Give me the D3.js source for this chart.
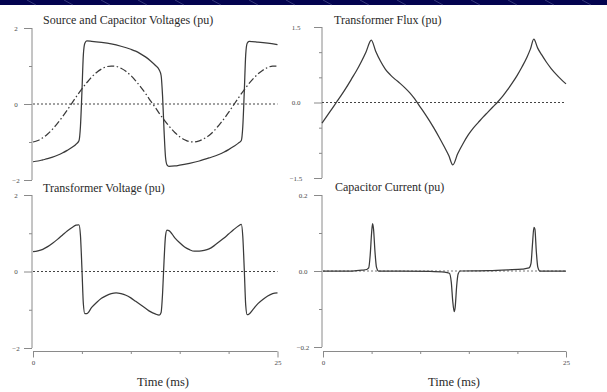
<!DOCTYPE html>
<html>
<head>
<meta charset="utf-8">
<script src="https://cdn.jsdelivr.net/npm/d3@7"></script>
<style>
  html, body { margin: 0; padding: 0; background: #fff; }
  svg { display: block; }
  .title { font-family: "Liberation Serif", "Times New Roman", serif; fill: #2a2a2a; }
  .tick text { font-family: "Liberation Serif", serif; fill: #4a4a4a; }
</style>
</head>
<body>
<svg id="chart" width="607" height="392"></svg>
<script>
// Time axis (ms)
const timeTicks = [0, 5, 10, 15, 20, 25];
const timeLabels = [0, 25];

// Source voltage (pu), dash-dot trace
const sourceT = [0,0.5,1,1.5,2,2.5,3,3.5,4,4.5,5,5.5,6,6.5,7,7.5,8,8.5,9,9.5,10,10.5,11,11.5,12,12.5,13,13.5,14,14.5,15,15.5,16,16.5,17,17.5,18,18.5,19,19.5,20,20.5,21,21.5,22,22.5,23,23.5,24,24.5,25];
const sourceV = [-1.00,-0.96,-0.89,-0.79,-0.66,-0.51,-0.34,-0.16,0.03,0.22,0.40,0.56,0.71,0.83,0.92,0.98,1.00,0.99,0.94,0.86,0.75,0.61,0.45,0.28,0.09,-0.09,-0.28,-0.45,-0.61,-0.75,-0.86,-0.94,-0.99,-1.00,-0.97,-0.91,-0.83,-0.71,-0.56,-0.40,-0.22,-0.03,0.16,0.34,0.51,0.66,0.79,0.89,0.96,1.00,1.00];

// Capacitor voltage (pu)
const capT = [0,0.5,1,1.5,2,2.5,3,3.5,4,4.4,4.7,4.85,5,5.15,5.3,5.5,6,7,8,9,10,10.5,11,11.5,12,12.5,12.9,13.1,13.25,13.4,13.55,13.7,13.9,14.5,15,16,17,18,19,19.5,20,20.5,21,21.3,21.45,21.6,21.75,21.9,22.1,23,24,25];
const capV = [-1.52,-1.50,-1.47,-1.44,-1.40,-1.35,-1.29,-1.22,-1.14,-1.06,-0.97,-0.60,0.30,1.30,1.60,1.66,1.65,1.62,1.58,1.52,1.44,1.39,1.32,1.24,1.14,1.02,0.90,0.75,0.20,-0.70,-1.40,-1.60,-1.64,-1.63,-1.61,-1.56,-1.50,-1.42,-1.33,-1.27,-1.20,-1.12,-1.03,-0.96,-0.60,0.30,1.30,1.60,1.65,1.63,1.60,1.56];

// Transformer voltage (pu)
const xfmrT = [0,0.5,1,1.5,2,2.5,3,3.5,4,4.4,4.7,4.85,5,5.15,5.3,5.5,6,6.5,7,7.5,8,8.5,9,9.5,10,10.5,11,11.5,12,12.5,12.9,13.1,13.25,13.4,13.55,13.7,13.9,14.5,15,15.5,16,16.5,17,17.5,18,18.5,19,19.5,20,20.5,21,21.3,21.45,21.6,21.75,21.9,22.1,22.5,23,23.5,24,24.5,25];
const xfmrV = [0.52,0.54,0.58,0.65,0.74,0.84,0.95,1.06,1.15,1.21,1.22,0.95,0.10,-0.85,-1.10,-1.10,-0.94,-0.81,-0.70,-0.63,-0.58,-0.56,-0.58,-0.62,-0.69,-0.78,-0.87,-0.96,-1.05,-1.11,-1.14,-1.07,-0.57,0.28,0.93,1.08,1.07,0.88,0.75,0.64,0.57,0.53,0.53,0.55,0.59,0.67,0.77,0.87,0.98,1.09,1.19,1.23,0.92,0.07,-0.88,-1.13,-1.11,-0.99,-0.84,-0.73,-0.64,-0.58,-0.56];

// Transformer flux (pu)
const fluxT = [0,0.5,1,1.5,2,2.5,3,3.5,4,4.5,5.05,5.5,6,6.5,7,7.5,8,8.5,9,9.5,10,10.5,11,11.5,12,12.5,13,13.4,13.9,14.5,15,15.5,16,16.5,17,17.5,18,18.5,19,19.5,20,20.5,21,21.35,21.7,22.1,22.5,23,23.5,24,24.5,25];
const fluxV = [-0.41,-0.27,-0.13,0.01,0.15,0.30,0.46,0.62,0.80,1.00,1.24,1.02,0.82,0.66,0.55,0.46,0.38,0.29,0.19,0.07,-0.07,-0.21,-0.36,-0.52,-0.69,-0.87,-1.06,-1.24,-1.02,-0.80,-0.64,-0.51,-0.40,-0.29,-0.19,-0.09,0.01,0.12,0.25,0.39,0.54,0.71,0.90,1.06,1.26,1.08,0.95,0.80,0.67,0.56,0.46,0.37];

// Capacitor current (pu)
const curT = [0,3,4,4.5,4.7,4.85,5.0,5.1,5.2,5.35,5.5,5.7,8,11,12.5,13.0,13.2,13.35,13.5,13.6,13.75,13.9,14.1,17,19,20.5,21.2,21.4,21.55,21.7,21.8,21.95,22.1,22.3,25];
const curV = [0,0,0.002,0.004,0.008,0.04,0.10,0.125,0.11,0.05,0.01,0,0,-0.001,-0.003,-0.006,-0.03,-0.08,-0.107,-0.095,-0.04,-0.008,0,0.001,0.003,0.005,0.008,0.02,0.07,0.115,0.11,0.05,0.01,0,0];

// Panel titles and y tick values
const titles = ["Source and Capacitor Voltages (pu)", "Transformer Flux (pu)", "Transformer Voltage (pu)", "Capacitor Current (pu)"];
const voltMajor = [-2, 0, 2], voltMinor = [-1, 1];
const fluxMajor = [-1.5, 0, 1.5], fluxMinor = [-1, -0.5, 0.5, 1];
const curMajor = [-0.2, 0, 0.2], curMinor = [-0.1, 0.1];

const svg = d3.select("#chart");
const pair = (ts, vs) => ts.map((t, i) => [t, vs[i]]);

// header band
const band = svg.append("g");
band.append("rect").attr("x", 0).attr("y", 0).attr("width", 607).attr("height", 5).attr("fill", "#03034f");
band.selectAll("line").data(d3.range(-10, 620, 37)).join("line")
  .attr("x1", d => d).attr("y1", 0).attr("x2", d => d + 9).attr("y2", 5)
  .attr("stroke", "#7f86b5").attr("stroke-width", 0.7).attr("opacity", 0.6);

const axisColor = "#8a8a8a";
const lineColor = "#3a3a3a";

function panel(cfg) {
  const g = svg.append("g");
  const x = d3.scaleLinear().domain([0, 25]).range(cfg.xr);
  const y = d3.scaleLinear().domain(cfg.yd).range(cfg.yr);

  // y axis: labelled ticks, unlabelled minor ticks
  const ya = g.append("g").attr("transform", `translate(${cfg.ax},0)`)
    .call(d3.axisLeft(y).tickValues(cfg.major).tickSize(8).tickSizeOuter(0)
      .tickFormat(cfg.fmt));
  ya.select(".domain").remove();
  ya.selectAll(".tick line").attr("stroke", axisColor);
  ya.selectAll(".tick text").attr("font-size", 7).attr("text-anchor", "middle")
    .attr("x", cfg.labelX - cfg.ax);
  const ym = g.append("g").attr("transform", `translate(${cfg.ax},0)`)
    .call(d3.axisLeft(y).tickValues(cfg.minor).tickSize(3).tickSizeOuter(0).tickFormat(""));
  ym.select(".domain").remove();
  ym.selectAll(".tick line").attr("stroke", axisColor);
  g.append("line").attr("x1", cfg.ax).attr("x2", cfg.ax)
    .attr("y1", cfg.yr[1]).attr("y2", cfg.yr[0]).attr("stroke", axisColor);

  // zero reference
  g.append("line").attr("x1", x(0)).attr("x2", x(25)).attr("y1", y(0)).attr("y2", y(0))
    .attr("stroke", cfg.zeroColor || "#444").attr("stroke-width", 1).attr("stroke-dasharray", "2,2");

  // title
  g.append("text").attr("class", "title").attr("x", cfg.tx).attr("y", cfg.ty)
    .attr("font-size", 12).text(cfg.title);

  const line = d3.line().x(d => x(d[0])).y(d => y(d[1])).curve(d3.curveMonotoneX);
  cfg.series.forEach(s => {
    g.append("path").datum(s.data).attr("d", line).attr("fill", "none")
      .attr("stroke", lineColor).attr("stroke-width", 1.25)
      .attr("stroke-dasharray", s.dash || null);
  });

  if (cfg.timeAxis) {
    const xa = g.append("g").attr("transform", `translate(0,${cfg.xAxisY})`)
      .call(d3.axisBottom(x).tickValues(timeTicks).tickSizeOuter(0)
        .tickSize(3).tickFormat(d => timeLabels.includes(d) ? d : ""));
    xa.select(".domain").attr("stroke", axisColor).attr("d", `M${x(0)},0H${x(25)}`);
    xa.selectAll(".tick line").attr("stroke", axisColor)
      .attr("y2", d => timeLabels.includes(d) ? 6 : 2.5);
    xa.selectAll(".tick text").attr("font-size", 7).attr("y", 9);
    g.append("text").attr("class", "title").attr("x", cfg.timeX).attr("y", 386)
      .attr("text-anchor", "middle").attr("font-size", 12.5).text("Time (ms)");
  }
}

const fmtInt = d3.format("d");
const fmt1 = d => d3.format(".1f")(d);

panel({ xr: [33, 277.5], yd: [-2, 2], yr: [180, 28], ax: 32, labelX: 16,
  major: voltMajor, minor: voltMinor, fmt: fmtInt, title: titles[0], tx: 43, ty: 24,
  series: [ { data: pair(capT, capV) }, { data: pair(sourceT, sourceV), dash: "7,2.5,1.5,2.5" } ] });

panel({ xr: [322, 566], yd: [-1.5, 1.5], yr: [178, 27], ax: 322, labelX: 296,
  major: fluxMajor, minor: fluxMinor, fmt: fmt1, title: titles[1], tx: 334, ty: 24,
  series: [ { data: pair(fluxT, fluxV) } ] });

panel({ xr: [33, 277.5], yd: [-2, 2], yr: [348, 195], ax: 32, labelX: 16,
  major: voltMajor, minor: voltMinor, fmt: fmtInt, title: titles[2], tx: 43, ty: 192,
  series: [ { data: pair(xfmrT, xfmrV) } ],
  timeAxis: true, xAxisY: 351.5, timeX: 163 });

panel({ xr: [323, 566], yd: [-0.2, 0.2], yr: [347, 195], ax: 322, labelX: 303,
  major: curMajor, minor: curMinor, fmt: fmt1, title: titles[3], tx: 335, ty: 191,
  series: [ { data: pair(curT, curV) } ], zeroColor: "#777",
  timeAxis: true, xAxisY: 351.5, timeX: 454 });
</script>
</body>
</html>
